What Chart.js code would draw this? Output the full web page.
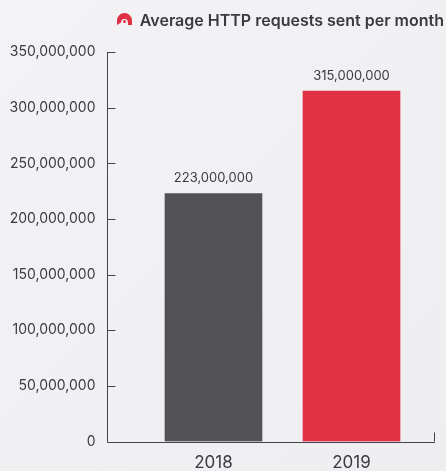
<!DOCTYPE html>
<html><head><meta charset="utf-8">
<style>html,body{margin:0;padding:0;width:446px;height:471px;overflow:hidden;background:linear-gradient(135deg,#f3f3f5,#eeeef0)}
#w{position:relative;width:446px;height:471px}</style>
<script src="https://cdn.jsdelivr.net/npm/chart.js@4"></script></head>
<body><div id="w"><canvas id="c"></canvas></div>
<script>
const years = [2018, 2019];
const requests = [223000000, 315000000];
const barColors = ['#525156', '#e03044'];
const titleText = 'Average HTTP requests sent per month';
const ink = '#3b3b3f';
const FONT = 'Inter';

const marks = {
  id: 'marks',
  afterDraw(chart) {
    const {ctx, scales: {x, y}} = chart;
    ctx.save();
    ctx.strokeStyle = '#444448'; ctx.lineWidth = 1;
    y.ticks.forEach(t => {
      const p = Math.round(y.getPixelForValue(t.value)) + 0.5;
      ctx.beginPath(); ctx.moveTo(x.left, p); ctx.lineTo(x.left + 8, p); ctx.stroke();
    });
    const r = Math.round(x.right) - 0.5;
    ctx.beginPath(); ctx.moveTo(r, y.bottom); ctx.lineTo(r, y.bottom - 9); ctx.stroke();
    const base = Math.round(y.bottom) + 0.5;
    ctx.beginPath(); ctx.moveTo(x.left, base); ctx.lineTo(x.right, base); ctx.stroke();
    const m = chart.getDatasetMeta(0);
    ctx.fillStyle = ink; ctx.font = '13px ' + FONT; ctx.textAlign = 'center'; ctx.textBaseline = 'alphabetic';
    m.data.forEach((b, i) => ctx.fillText(requests[i].toLocaleString('en-US'), b.x, b.y - 11));
    // brand mark beside the title
    ctx.fillStyle = '#e03044';
    ctx.beginPath(); ctx.arc(124.5, 20.5, 7.5, Math.PI, 0); ctx.lineTo(132, 25); ctx.lineTo(128, 25);
    ctx.arc(124.5, 22.5, 3.4, 0, Math.PI, true); ctx.lineTo(117, 25); ctx.closePath(); ctx.fill();
    ctx.beginPath(); ctx.arc(124.5, 21.5, 1.5, 0, 2 * Math.PI); ctx.fill();
    ctx.restore();
  }
};

new Chart(document.getElementById('c'), {
  type: 'bar',
  data: { labels: years, datasets: [{ data: requests, backgroundColor: barColors, barThickness: 97 }] },
  plugins: [marks],
  options: {
    responsive: true, maintainAspectRatio: false, animation: false,
    layout: { padding: { top: 12, right: 2, left: 0, bottom: 0 } },
    plugins: {
      legend: { display: false }, tooltip: { enabled: false },
      title: { display: true, text: titleText, align: 'end', color: ink,
        font: { family: FONT, size: 16, weight: '600' }, padding: { top: 0, bottom: 21 } }
    },
    scales: {
      x: { type: 'linear', bounds: 'data', offset: false, min: 2017.232, max: 2019.605,
        afterBuildTicks(s) { s.ticks = years.map(v => ({ value: v })); },
        afterFit(s) { s.paddingRight = 11; s.height = 29.5; },
        grid: { display: false, offset: false }, border: { display: false },
        ticks: { autoSkip: false, maxRotation: 0, callback: v => String(v), color: ink, padding: 3,
          font: { family: FONT, size: 17 } } },
      y: { min: 0, max: 350000000, afterFit(s) { s.width = 107.5; },
        grid: { display: false, drawTicks: false }, border: { color: '#444448', width: 1 },
        ticks: { stepSize: 50000000, color: ink, padding: 12, callback: v => v.toLocaleString('en-US'),
          font: { family: FONT, size: 14 } } }
    }
  }
});
</script></body></html>
